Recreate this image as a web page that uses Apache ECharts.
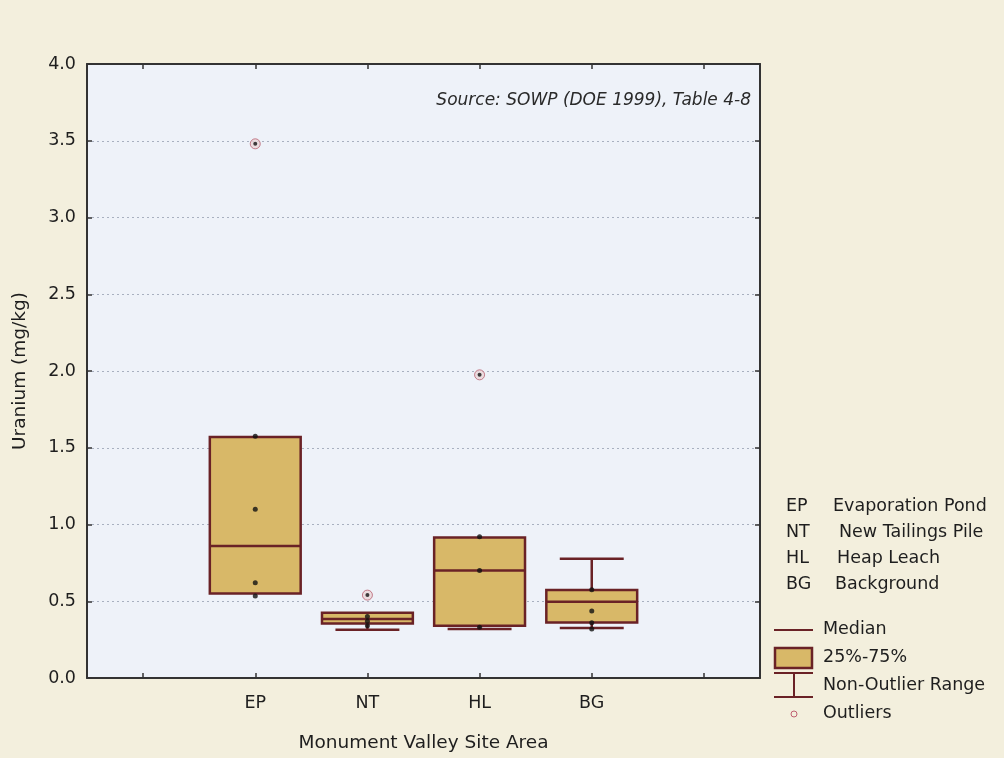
<!DOCTYPE html>
<html>
<head>
<meta charset="utf-8">
<script src="https://cdn.jsdelivr.net/npm/echarts@6/dist/echarts.min.js"></script>
<style>
html,body{margin:0;padding:0;background:#F3EFDD;}
#chart{width:1004px;height:758px;}
</style>
</head>
<body>
<div id="chart"></div>
<script>
// ---- data ----
const categories = ['', 'EP', 'NT', 'HL', 'BG', ''];
const siteIndex = [1, 2, 3, 4];
const whiskerLow = [0.55, 0.315, 0.32, 0.326];
const quartile1 = [0.55, 0.355, 0.34, 0.362];
const medians = [0.86, 0.385, 0.70, 0.496];
const quartile3 = [1.57, 0.425, 0.915, 0.574];
const whiskerHigh = [1.57, 0.425, 0.915, 0.777];
const outlierSite = [1, 2, 3];
const outlierValue = [3.48, 0.54, 1.975];
const pointsEP = [0.535, 0.62, 1.10, 1.575];
const pointsNT = [0.34, 0.37, 0.40];
const pointsHL = [0.33, 0.70, 0.92];
const pointsBG = [0.32, 0.36, 0.437, 0.575];
const yTicks = [0, 4, 0.5];
const legendCodes = ['EP', 'NT', 'HL', 'BG'];
const legendNames = ['Evaporation Pond', 'New Tailings Pile', 'Heap Leach', 'Background'];

const BOX_FILL = '#D8B868';
const BOX_LINE = '#6A2226';
const FONT = '"DejaVu Sans", "Liberation Sans", Arial, sans-serif';
const TXT = '#1E1E1E';

const boxData = siteIndex.map((s, i) => [s, whiskerLow[i], quartile1[i], medians[i], quartile3[i], whiskerHigh[i]]);
const pointData = [];
[pointsEP, pointsNT, pointsHL, pointsBG].forEach((arr, i) => arr.forEach(v => pointData.push([siteIndex[i], v])));
const outlierData = outlierSite.map((s, i) => [s, outlierValue[i]]);

function renderBox(params, api) {
  const x = api.value(0);
  const band = api.size([1, 0])[0];
  const boxW = band * 0.81;
  const capW = band * 0.57;
  const pLow = api.coord([x, api.value(1)]);
  const pQ1 = api.coord([x, api.value(2)]);
  const pMed = api.coord([x, api.value(3)]);
  const pQ3 = api.coord([x, api.value(4)]);
  const pHigh = api.coord([x, api.value(5)]);
  const cx = pMed[0];
  const lineStyle = { stroke: BOX_LINE, lineWidth: 2.5 };
  const children = [];
  if (pLow[1] - pQ1[1] > 0.5) {
    children.push({ type: 'line', shape: { x1: cx, y1: pQ1[1], x2: cx, y2: pLow[1] }, style: lineStyle });
    children.push({ type: 'line', shape: { x1: cx - capW / 2, y1: pLow[1], x2: cx + capW / 2, y2: pLow[1] }, style: lineStyle });
  }
  if (pQ3[1] - pHigh[1] > 0.5) {
    children.push({ type: 'line', shape: { x1: cx, y1: pHigh[1], x2: cx, y2: pQ3[1] }, style: lineStyle });
    children.push({ type: 'line', shape: { x1: cx - capW / 2, y1: pHigh[1], x2: cx + capW / 2, y2: pHigh[1] }, style: lineStyle });
  }
  children.push({ type: 'rect', shape: { x: cx - boxW / 2, y: pQ3[1], width: boxW, height: pQ1[1] - pQ3[1] },
    style: { fill: BOX_FILL, stroke: BOX_LINE, lineWidth: 2.5 } });
  children.push({ type: 'line', shape: { x1: cx - boxW / 2, y1: pMed[1], x2: cx + boxW / 2, y2: pMed[1] }, style: lineStyle });
  return { type: 'group', children: children };
}

const chart = echarts.init(document.getElementById('chart'));
const legendGraphics = [];
legendCodes.forEach((c, i) => {
  const y = 507 + i * 26;
  legendGraphics.push({ type: 'text', left: 786, top: y - 10, style: { text: c, font: '17.5px ' + FONT, fill: TXT } });
  legendGraphics.push({ type: 'text', left: [833, 839, 837, 835][i], top: y - 10, style: { text: legendNames[i], font: '17.5px ' + FONT, fill: TXT } });
});
legendGraphics.push(
  { type: 'line', shape: { x1: 774, y1: 630, x2: 813, y2: 630 }, style: { stroke: BOX_LINE, lineWidth: 2 } },
  { type: 'text', left: 823, top: 620, style: { text: 'Median', font: '17.5px ' + FONT, fill: TXT } },
  { type: 'rect', shape: { x: 775, y: 648, width: 37, height: 20 }, style: { fill: BOX_FILL, stroke: BOX_LINE, lineWidth: 2.5 } },
  { type: 'text', left: 823, top: 648, style: { text: '25%-75%', font: '17.5px ' + FONT, fill: TXT } },
  { type: 'line', shape: { x1: 774, y1: 673, x2: 813, y2: 673 }, style: { stroke: BOX_LINE, lineWidth: 2 } },
  { type: 'line', shape: { x1: 794, y1: 673, x2: 794, y2: 697 }, style: { stroke: BOX_LINE, lineWidth: 2 } },
  { type: 'line', shape: { x1: 774, y1: 697, x2: 813, y2: 697 }, style: { stroke: BOX_LINE, lineWidth: 2 } },
  { type: 'text', left: 823, top: 676, style: { text: 'Non-Outlier Range', font: '17.5px ' + FONT, fill: TXT } },
  { type: 'circle', shape: { cx: 794, cy: 714, r: 3 }, style: { fill: 'none', stroke: '#C06070', lineWidth: 1 } },
  { type: 'text', left: 823, top: 704, style: { text: 'Outliers', font: '17.5px ' + FONT, fill: TXT } },
  { type: 'text', right: 253, top: 92, style: { text: 'Source: SOWP (DOE 1999), Table 4-8', font: 'italic 17px ' + FONT, fill: '#2A2A2A' } }
);

const axisLineStyle = { show: true, onZero: false, lineStyle: { color: '#333', width: 2 } };
chart.setOption({
  backgroundColor: '#F3EFDD',
  animation: false,
  grid: { left: 87, right: 244, top: 64, bottom: 80, show: true, backgroundColor: '#EEF2F9', borderWidth: 0 },
  xAxis: [
    { type: 'category', data: categories, position: 'bottom', axisLine: axisLineStyle,
      axisTick: { show: true, inside: true, alignWithLabel: true, length: 5, lineStyle: { color: '#333', width: 1.5 } },
      axisLabel: { color: TXT, fontSize: 17.5, fontFamily: FONT, margin: 16, interval: 0 },
      splitLine: { show: false },
      name: 'Monument Valley Site Area', nameLocation: 'middle', nameGap: 56,
      nameTextStyle: { color: TXT, fontSize: 18.5, fontFamily: FONT } },
    { type: 'category', data: categories, position: 'top', axisLine: axisLineStyle,
      axisTick: { show: true, inside: true, alignWithLabel: true, length: 5, lineStyle: { color: '#333', width: 1.5 } },
      axisLabel: { show: false } }
  ],
  yAxis: [
    { type: 'value', min: yTicks[0], max: yTicks[1], interval: yTicks[2], position: 'left', axisLine: axisLineStyle,
      axisTick: { show: true, inside: true, length: 5, lineStyle: { color: '#333', width: 1.5 } },
      axisLabel: { color: TXT, fontSize: 17.5, fontFamily: FONT, margin: 11, formatter: v => v.toFixed(1) },
      splitLine: { show: true, lineStyle: { color: '#A8B0C0', type: [2, 3], width: 1 } },
      name: 'Uranium (mg/kg)', nameLocation: 'middle', nameGap: 57, nameRotate: 90,
      nameTextStyle: { color: TXT, fontSize: 18.5, fontFamily: FONT } },
    { type: 'value', min: yTicks[0], max: yTicks[1], interval: yTicks[2], position: 'right', axisLine: axisLineStyle,
      axisTick: { show: true, inside: true, length: 5, lineStyle: { color: '#333', width: 1.5 } },
      axisLabel: { show: false }, splitLine: { show: false } }
  ],
  series: [
    { type: 'custom', xAxisIndex: 0, yAxisIndex: 0, renderItem: renderBox, data: boxData, z: 2 },
    { type: 'scatter', xAxisIndex: 0, yAxisIndex: 0, data: pointData, symbol: 'circle', symbolSize: 5,
      itemStyle: { color: '#111' }, z: 3 },
    { type: 'scatter', xAxisIndex: 0, yAxisIndex: 0, data: outlierData, symbol: 'circle', symbolSize: 10,
      itemStyle: { color: '#EAD6D8', borderColor: '#B86070', borderWidth: 1 }, z: 3 },
    { type: 'scatter', xAxisIndex: 0, yAxisIndex: 0, data: outlierData, symbol: 'circle', symbolSize: 4,
      itemStyle: { color: '#111' }, z: 4 }
  ],
  graphic: legendGraphics
});
</script>
</body>
</html>
